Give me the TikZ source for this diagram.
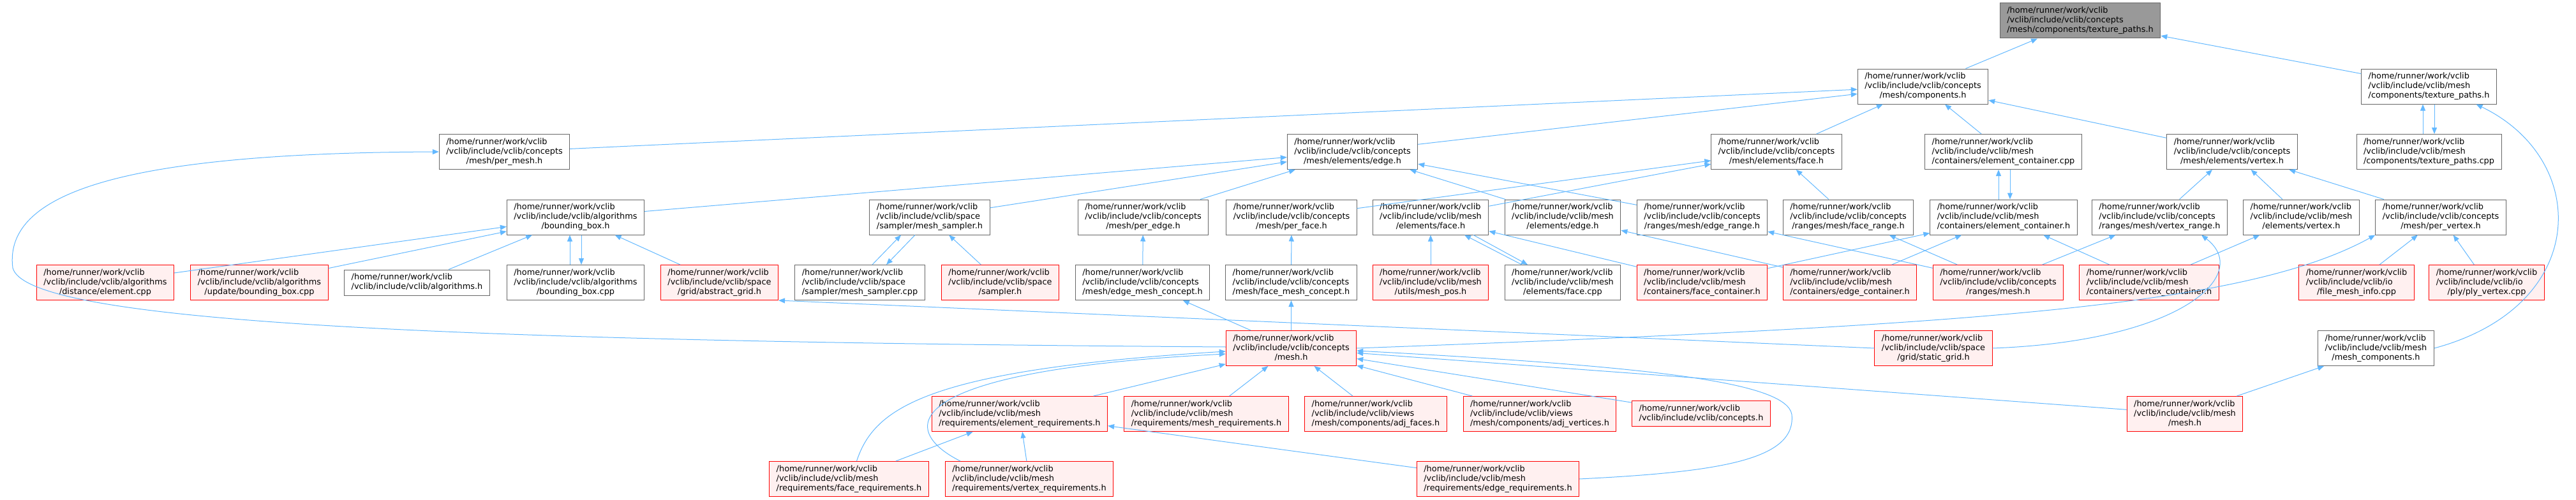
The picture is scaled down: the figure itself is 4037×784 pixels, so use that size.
\documentclass[tikz,border=0pt]{standalone}
\usepackage{fontspec}
\setmainfont{DejaVu Sans}
\usepackage{tikz}
\usetikzlibrary{arrows.meta}
\definecolor{grey40}{RGB}{102,102,102}
\definecolor{grey60}{RGB}{153,153,153}
\definecolor{rosefill}{RGB}{255,240,240}
\definecolor{edgeblue}{RGB}{99,184,255}
\newcommand{\flab}[3]{\begin{tabular}{@{}l@{}}#1\\#2\\\multicolumn{1}{@{}c@{}}{#3}\end{tabular}}
\newcommand{\tlab}[2]{\begin{tabular}{@{}l@{}}#1\\\multicolumn{1}{@{}c@{}}{#2}\end{tabular}}

\begin{document}
\begin{tikzpicture}[x=1pt, y=-1pt,
        box/.style={draw=grey40, fill=white, line width=1pt, inner xsep=11pt,
                    inner ysep=5pt, font=\fontsize{12.9}{15}\selectfont},
        rootbox/.style={box, fill=grey60},
        redbox/.style={box, draw=red, fill=rosefill},
        arr/.style={-{Triangle[length=10pt, width=8pt]}, line width=1pt, edgeblue}
      ]
        \useasboundingbox (0,0) rectangle (4037,784);
        \node[rootbox] (tp) at (3260,32.5) {\flab{/home/runner/work/vclib}{/vclib/include/vclib/concepts}{/mesh/components/texture\_paths.h}};
        \node[box] (comp) at (3013.5,135.5) {\flab{/home/runner/work/vclib}{/vclib/include/vclib/concepts}{/mesh/components.h}};
        \node[box] (mtp) at (3806.5,135.5) {\flab{/home/runner/work/vclib}{/vclib/include/vclib/mesh}{/components/texture\_paths.h}};
        \node[box] (permesh) at (790.5,238) {\flab{/home/runner/work/vclib}{/vclib/include/vclib/concepts}{/mesh/per\_mesh.h}};
        \node[box] (cedge) at (2119.5,238) {\flab{/home/runner/work/vclib}{/vclib/include/vclib/concepts}{/mesh/elements/edge.h}};
        \node[box] (cface) at (2784,238) {\flab{/home/runner/work/vclib}{/vclib/include/vclib/concepts}{/mesh/elements/face.h}};
        \node[box] (eccpp) at (3139.5,238) {\flab{/home/runner/work/vclib}{/vclib/include/vclib/mesh}{/containers/element\_container.cpp}};
        \node[box] (cvert) at (3498,238) {\flab{/home/runner/work/vclib}{/vclib/include/vclib/concepts}{/mesh/elements/vertex.h}};
        \node[box] (tpcpp) at (3806.5,238) {\flab{/home/runner/work/vclib}{/vclib/include/vclib/mesh}{/components/texture\_paths.cpp}};
        \node[box] (bbox) at (902,340.5) {\flab{/home/runner/work/vclib}{/vclib/include/vclib/algorithms}{/bounding\_box.h}};
        \node[box] (msamph) at (1457,340.5) {\flab{/home/runner/work/vclib}{/vclib/include/vclib/space}{/sampler/mesh\_sampler.h}};
        \node[box] (peredge) at (1791.5,340.5) {\flab{/home/runner/work/vclib}{/vclib/include/vclib/concepts}{/mesh/per\_edge.h}};
        \node[box] (perface) at (2024,340.5) {\flab{/home/runner/work/vclib}{/vclib/include/vclib/concepts}{/mesh/per\_face.h}};
        \node[box] (mface) at (2242,340.5) {\flab{/home/runner/work/vclib}{/vclib/include/vclib/mesh}{/elements/face.h}};
        \node[box] (medge) at (2449,340.5) {\flab{/home/runner/work/vclib}{/vclib/include/vclib/mesh}{/elements/edge.h}};
        \node[box] (erange) at (2667.5,340.5) {\flab{/home/runner/work/vclib}{/vclib/include/vclib/concepts}{/ranges/mesh/edge\_range.h}};
        \node[box] (frange) at (2896.5,340.5) {\flab{/home/runner/work/vclib}{/vclib/include/vclib/concepts}{/ranges/mesh/face\_range.h}};
        \node[box] (ech) at (3140,340.5) {\flab{/home/runner/work/vclib}{/vclib/include/vclib/mesh}{/containers/element\_container.h}};
        \node[box] (vrange) at (3384.5,340.5) {\flab{/home/runner/work/vclib}{/vclib/include/vclib/concepts}{/ranges/mesh/vertex\_range.h}};
        \node[box] (mvert) at (3606.5,340.5) {\flab{/home/runner/work/vclib}{/vclib/include/vclib/mesh}{/elements/vertex.h}};
        \node[box] (pervert) at (3825,340.5) {\flab{/home/runner/work/vclib}{/vclib/include/vclib/concepts}{/mesh/per\_vertex.h}};
        \node[redbox] (distel) at (165,443) {\flab{/home/runner/work/vclib}{/vclib/include/vclib/algorithms}{/distance/element.cpp}};
        \node[redbox] (updbb) at (406.5,443) {\flab{/home/runner/work/vclib}{/vclib/include/vclib/algorithms}{/update/bounding\_box.cpp}};
        \node[box] (algh) at (653.5,443) {\tlab{/home/runner/work/vclib}{/vclib/include/vclib/algorithms.h}};
        \node[box] (bbcpp) at (902,443) {\flab{/home/runner/work/vclib}{/vclib/include/vclib/algorithms}{/bounding\_box.cpp}};
        \node[redbox] (agrid) at (1127.5,443) {\flab{/home/runner/work/vclib}{/vclib/include/vclib/space}{/grid/abstract\_grid.h}};
        \node[box] (msampcpp) at (1347.5,443) {\flab{/home/runner/work/vclib}{/vclib/include/vclib/space}{/sampler/mesh\_sampler.cpp}};
        \node[redbox] (sampler) at (1567.5,443) {\flab{/home/runner/work/vclib}{/vclib/include/vclib/space}{/sampler.h}};
        \node[box] (emc) at (1790.5,443) {\flab{/home/runner/work/vclib}{/vclib/include/vclib/concepts}{/mesh/edge\_mesh\_concept.h}};
        \node[box] (fmc) at (2023.5,443) {\flab{/home/runner/work/vclib}{/vclib/include/vclib/concepts}{/mesh/face\_mesh\_concept.h}};
        \node[redbox] (meshpos) at (2242,443) {\flab{/home/runner/work/vclib}{/vclib/include/vclib/mesh}{/utils/mesh\_pos.h}};
        \node[box] (facecpp) at (2449,443) {\flab{/home/runner/work/vclib}{/vclib/include/vclib/mesh}{/elements/face.cpp}};
        \node[redbox] (fcont) at (2667.5,443) {\flab{/home/runner/work/vclib}{/vclib/include/vclib/mesh}{/containers/face\_container.h}};
        \node[redbox] (econt) at (2899,443) {\flab{/home/runner/work/vclib}{/vclib/include/vclib/mesh}{/containers/edge\_container.h}};
        \node[redbox] (rmesh) at (3131.5,443) {\flab{/home/runner/work/vclib}{/vclib/include/vclib/concepts}{/ranges/mesh.h}};
        \node[redbox] (vcont) at (3368,443) {\flab{/home/runner/work/vclib}{/vclib/include/vclib/mesh}{/containers/vertex\_container.h}};
        \node[redbox] (fmi) at (3693,443) {\flab{/home/runner/work/vclib}{/vclib/include/vclib/io}{/file\_mesh\_info.cpp}};
        \node[redbox] (plyv) at (3897,443) {\flab{/home/runner/work/vclib}{/vclib/include/vclib/io}{/ply/ply\_vertex.cpp}};
        \node[redbox] (cmesh) at (2023.5,546) {\flab{/home/runner/work/vclib}{/vclib/include/vclib/concepts}{/mesh.h}};
        \node[redbox] (sgrid) at (3030,546) {\flab{/home/runner/work/vclib}{/vclib/include/vclib/space}{/grid/static\_grid.h}};
        \node[box] (mcomp) at (3723.5,546) {\flab{/home/runner/work/vclib}{/vclib/include/vclib/mesh}{/mesh\_components.h}};
        \node[redbox] (elreq) at (1598,649) {\flab{/home/runner/work/vclib}{/vclib/include/vclib/mesh}{/requirements/element\_requirements.h}};
        \node[redbox] (meshreq) at (1890.5,649) {\flab{/home/runner/work/vclib}{/vclib/include/vclib/mesh}{/requirements/mesh\_requirements.h}};
        \node[redbox] (adjf) at (2156,649) {\flab{/home/runner/work/vclib}{/vclib/include/vclib/views}{/mesh/components/adj\_faces.h}};
        \node[redbox] (adjv) at (2413,649) {\flab{/home/runner/work/vclib}{/vclib/include/vclib/views}{/mesh/components/adj\_vertices.h}};
        \node[redbox] (conch) at (2666,648.5) {\tlab{/home/runner/work/vclib}{/vclib/include/vclib/concepts.h}};
        \node[redbox] (mmesh) at (3424,649) {\flab{/home/runner/work/vclib}{/vclib/include/vclib/mesh}{/mesh.h}};
        \node[redbox] (freq) at (1330.5,751) {\flab{/home/runner/work/vclib}{/vclib/include/vclib/mesh}{/requirements/face\_requirements.h}};
        \node[redbox] (vreq) at (1613,751) {\flab{/home/runner/work/vclib}{/vclib/include/vclib/mesh}{/requirements/vertex\_requirements.h}};
        \node[redbox] (ereq) at (2347.5,751) {\flab{/home/runner/work/vclib}{/vclib/include/vclib/mesh}{/requirements/edge\_requirements.h}};
        \coordinate (lbend) at (20,420);
        \coordinate (rbend) at (2808,650);
        \draw[arr] (comp)--(tp);
        \draw[arr] (mtp)--(tp);
        \draw[arr] (permesh)--(comp);
        \draw[arr] (cedge)--(comp);
        \draw[arr] (cface)--(comp);
        \draw[arr] (eccpp)--(comp);
        \draw[arr] (cvert)--(comp);
        \draw[arr] ([xshift=-9.5pt]tpcpp.north)--([xshift=-9.5pt]mtp.south);
        \draw[arr] ([xshift=8.5pt]mtp.south)--([xshift=8.5pt]tpcpp.north);
        \draw[arr] (mcomp.east) .. controls (4060,480) and (4060,250) .. ([xshift=74pt]mtp.south);
        \draw[arr] (mmesh)--(mcomp);
        \draw[arr] (bbox)--(cedge);
        \draw[arr] (msamph)--(cedge);
        \draw[arr] (peredge)--(cedge);
        \draw[arr] (medge)--(cedge);
        \draw[arr] (erange)--(cedge);
        \draw[arr] (perface)--(cface);
        \draw[arr] (mface)--(cface);
        \draw[arr] (frange)--(cface);
        \draw[arr] ([xshift=-8pt]ech.north)--([xshift=-7.5pt]eccpp.south);
        \draw[arr] ([xshift=10.5pt]eccpp.south)--([xshift=10pt]ech.north);
        \draw[arr] (vrange)--(cvert);
        \draw[arr] (mvert)--(cvert);
        \draw[arr] (pervert)--(cvert);
        \draw[arr] (distel)--(bbox);
        \draw[arr] (updbb)--(bbox);
        \draw[arr] (algh)--(bbox);
        \draw[arr] ([xshift=-9pt]bbcpp.north)--([xshift=-9pt]bbox.south);
        \draw[arr] ([xshift=9pt]bbox.south)--([xshift=9pt]bbcpp.north);
        \draw[arr] (agrid)--(bbox);
        \draw[arr] ([xshift=19.5pt]msampcpp.north)--([xshift=-45pt]msamph.south);
        \draw[arr] ([xshift=-23pt]msamph.south)--([xshift=41.5pt]msampcpp.north);
        \draw[arr] (sampler)--(msamph);
        \draw[arr] (emc)--(peredge);
        \draw[arr] (fmc)--(perface);
        \draw[arr] (meshpos)--(mface);
        \draw[arr] ([xshift=-64pt]facecpp.north)--([xshift=53pt]mface.south);
        \draw[arr] ([xshift=67pt]mface.south)--([xshift=-55pt]facecpp.north);
        \draw[arr] (fcont)--(mface);
        \draw[arr] (econt)--(medge);
        \draw[arr] (rmesh)--(erange);
        \draw[arr] (rmesh)--(frange);
        \draw[arr] (fcont)--(ech);
        \draw[arr] (econt)--(ech);
        \draw[arr] (vcont)--(ech);
        \draw[arr] (rmesh)--(vrange);
        \draw[arr] (vcont)--(mvert);
        \draw[arr] (cmesh.east) .. controls (3100,510) and (3520,480) .. (pervert.south west);
        \draw[arr] (fmi)--(pervert);
        \draw[arr] (plyv)--(pervert);
        \draw[arr] (cmesh)--(emc);
        \draw[arr] (cmesh)--(fmc);
        \draw[arr] ([yshift=2pt]cmesh.west) .. controls (600,535) and (40,500) .. (lbend) .. controls (5,300) and (200,240) .. (permesh.west);
        \draw[arr] (sgrid.west)--(agrid.south east);
        \draw[arr] (sgrid.east) .. controls (3420,535) and (3530,430) .. ([xshift=65.5pt]vrange.south);
        \draw[arr] (elreq)--(cmesh);
        \draw[arr] (meshreq)--(cmesh);
        \draw[arr] (adjf)--(cmesh);
        \draw[arr] (adjv)--(cmesh);
        \draw[arr] (conch)--(cmesh);
        \draw[arr] (mmesh)--(cmesh);
        \draw[arr] (ereq.east) .. controls (2700,740) and (2815,720) .. (rbend) .. controls (2800,600) and (2600,575) .. ([yshift=-4pt]cmesh.east);
        \draw[arr] ([xshift=12pt]freq.north) .. controls (1370,640) and (1450,580) .. ([yshift=-5pt]cmesh.west);
        \draw[arr] ([xshift=-108pt]vreq.north) .. controls (1400,670) and (1420,580) .. ([yshift=-9pt]cmesh.west);
        \draw[arr] (freq)--(elreq);
        \draw[arr] (vreq)--(elreq);
        \draw[arr] (ereq)--(elreq);
      \end{tikzpicture}
\end{document}
